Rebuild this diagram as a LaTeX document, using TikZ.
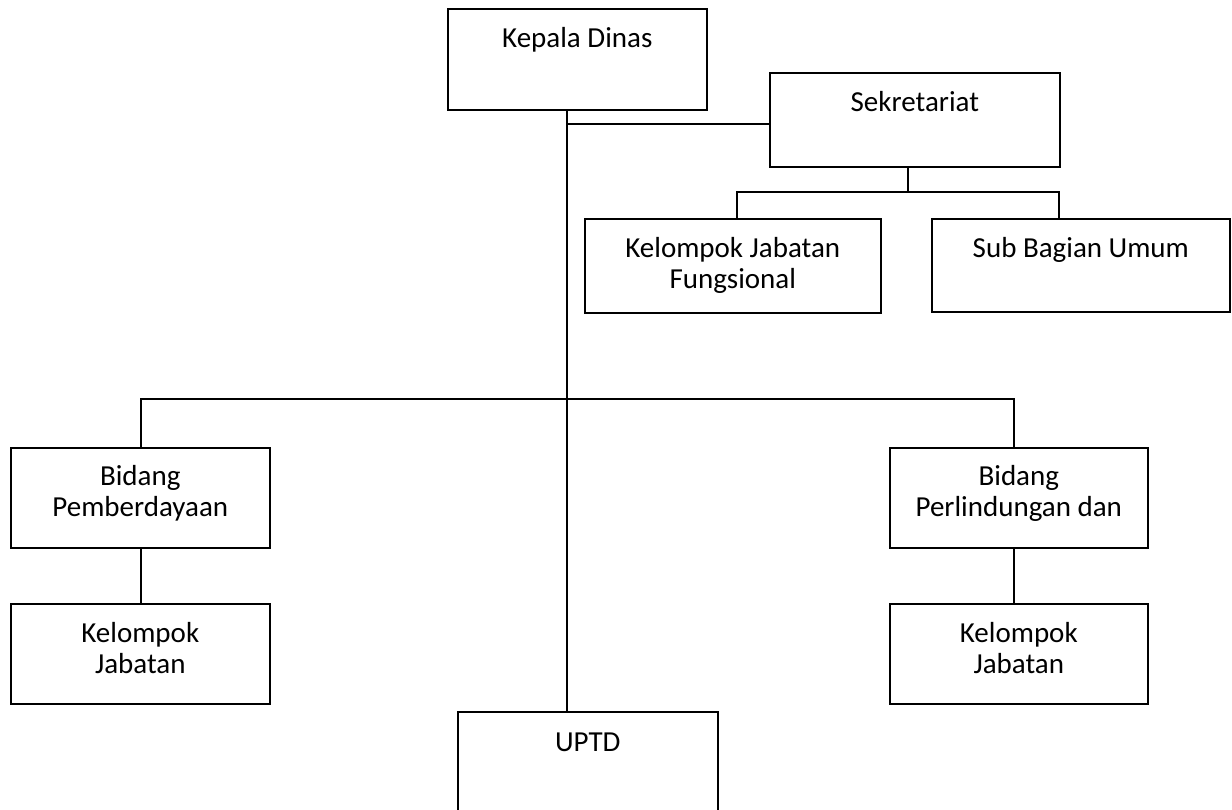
\documentclass[tikz,border=0pt]{standalone}
\usepackage{fontspec}
\setmainfont{Carlito}
\begin{document}
\begin{tikzpicture}[x=1pt,y=-1pt,line width=1.6pt,
  box/.style={draw,rectangle,line width=1.6pt,anchor=north west,inner sep=0pt},
  txt/.style={font=\fontsize{29}{31}\selectfont,align=center,anchor=north,inner sep=0pt},
  conn/.style={draw,line width=1.6pt}]
\useasboundingbox (0,0) rectangle (1232,809);
\clip (0,0) rectangle (1232,809);
% boxes
\node[box,minimum width=259pt,minimum height=101pt] (kd) at (447,8) {};
\node[box,minimum width=290pt,minimum height=94pt] (sek) at (769,72) {};
\node[box,minimum width=296pt,minimum height=94pt] (kjf) at (584,218) {};
\node[box,minimum width=298pt,minimum height=93pt] (sbu) at (931,218) {};
\node[box,minimum width=259pt,minimum height=100pt] (bp) at (10,447) {};
\node[box,minimum width=259pt,minimum height=100pt] (kjl) at (10,603) {};
\node[box,minimum width=258pt,minimum height=100pt] (bpl) at (889,447) {};
\node[box,minimum width=258pt,minimum height=100pt] (kjr) at (889,603) {};
\node[box,minimum width=260pt,minimum height=130pt] (uptd) at (457,711) {};
% texts
\node[txt] (kdt) at ([yshift=-17pt]kd.north) {\rule{0pt}{22pt}Kepala Dinas};
\node[txt] (sekt) at ([yshift=-17pt]sek.north) {\rule{0pt}{22pt}Sekretariat};
\node[txt] (kjft) at ([yshift=-17pt]kjf.north) {\rule{0pt}{22pt}Kelompok Jabatan\\Fungsional};
\node[txt] (sbut) at ([yshift=-17pt]sbu.north) {\rule{0pt}{22pt}Sub Bagian Umum};
\node[txt] (bpt) at ([yshift=-15.5pt]bp.north) {\rule{0pt}{22pt}Bidang\\Pemberdayaan};
\node[txt] (kjlt) at ([yshift=-16.5pt]kjl.north) {\rule{0pt}{22pt}Kelompok\\Jabatan};
\node[txt] (bplt) at ([yshift=-15.5pt]bpl.north) {\rule{0pt}{22pt}Bidang\\Perlindungan dan};
\node[txt] (kjrt) at ([yshift=-16.5pt]kjr.north) {\rule{0pt}{22pt}Kelompok\\Jabatan};
\node[txt] (uptdt) at ([yshift=-17.5pt]uptd.north) {\rule{0pt}{22pt}UPTD};
% connectors
\coordinate (sp) at (567,124);
\coordinate (sb) at (908,192);
\coordinate (sl) at (737,192);
\coordinate (sr) at (1059,192);
\coordinate (bl) at (141,399);
\coordinate (br) at (1014,399);
\draw[conn] (sp |- kd.south) -- (sp |- uptd.north);
\draw[conn] (sp) -- (sp -| sek.west);
\draw[conn] (sb |- sek.south) -- (sb);
\draw[conn] (sl |- kjf.north) -- (sl) -- (sr) -- (sr |- sbu.north);
\draw[conn] (bl |- bp.north) -- (bl) -- (br) -- (br |- bpl.north);
\draw[conn] (bl |- bp.south) -- (bl |- kjl.north);
\draw[conn] (br |- bpl.south) -- (br |- kjr.north);
\end{tikzpicture}
\end{document}
